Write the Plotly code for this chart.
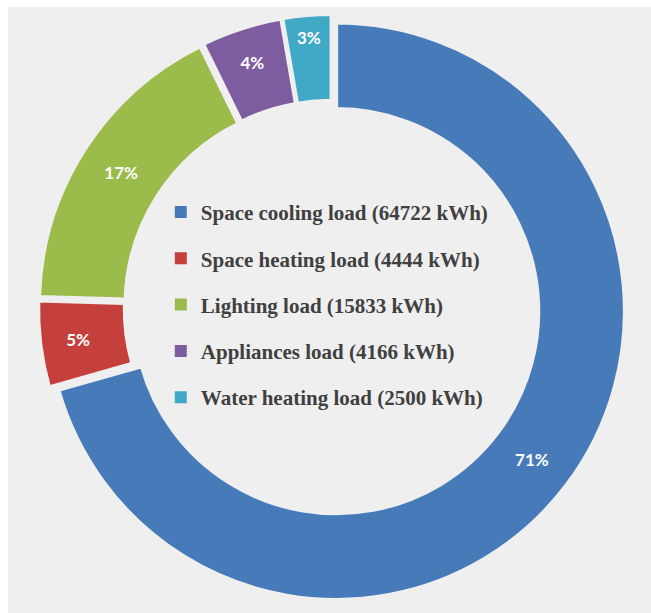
import plotly.graph_objects as go

# Annual energy use by end use
categories = ["Space cooling load", "Space heating load", "Lighting load",
              "Appliances load", "Water heating load"]
energy_kwh = [64722, 4444, 15833, 4166, 2500]
pct_labels = ["71%", "5%", "17%", "4%", "3%"]
colors = ["#467ab9", "#c5403c", "#9bbb4a", "#7e5ca0", "#3fa9c6"]

bg = "#efefef"

fig = go.Figure()

fig.add_trace(go.Pie(
    labels=categories,
    values=energy_kwh,
    text=pct_labels,
    textinfo="text",
    textposition="inside",
    insidetextorientation="horizontal",
    textfont=dict(family="Lato", size=17, color="white", weight="bold"),
    hole=0.70,
    sort=False,
    direction="clockwise",
    rotation=0,
    pull=0.018,
    marker=dict(colors=colors, line=dict(color=bg, width=4)),
    domain=dict(x=[0.058, 0.962], y=[0.018, 0.977]),
    showlegend=False,
))

# Legend entries in the centre of the ring
for name, val, col in zip(categories, energy_kwh, colors):
    fig.add_trace(go.Scatter(
        x=[None], y=[None], mode="markers",
        marker=dict(symbol="square", size=9, color=col),
        name=f"{name} ({val} kWh)",
        legendgroup=name,
        showlegend=True,
    ))

fig.update_layout(
    width=651, height=613,
    margin=dict(l=0, r=0, t=0, b=0),
    paper_bgcolor="white",
    plot_bgcolor="rgba(0,0,0,0)",
    xaxis=dict(visible=False),
    yaxis=dict(visible=False),
    shapes=[dict(type="rect", xref="paper", yref="paper",
                 x0=8 / 651, x1=1, y0=0, y1=1 - 7 / 613,
                 fillcolor=bg, line=dict(width=0), layer="below")],
    legend=dict(
        x=0.247, y=0.687, xanchor="left", yanchor="top",
        bgcolor="rgba(0,0,0,0)",
        font=dict(family="Liberation Serif", size=21, color="#404040", weight="bold"),
        tracegroupgap=16,
        itemsizing="constant",
    ),
)

fig.write_html("out.html")
